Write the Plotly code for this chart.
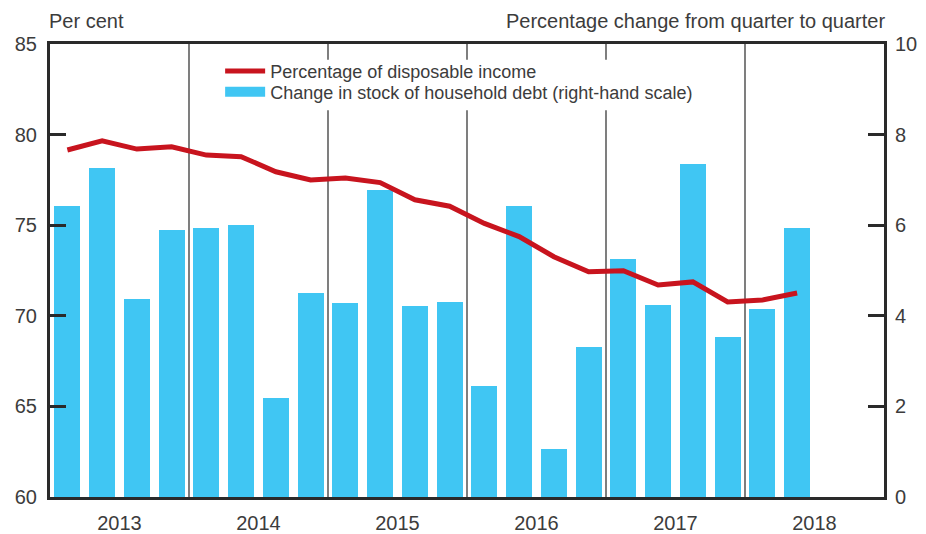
import plotly.graph_objects as go

years = ["2013", "2014", "2015", "2016", "2017", "2018"]
quarters = [f"{y}Q{q}" for y in years for q in range(1, 5)][:22]

debt_change = [6.42, 7.26, 4.37, 5.89,
               5.94, 6.00, 2.19, 4.50,
               4.28, 6.78, 4.22, 4.30,
               2.45, 6.42, 1.06, 3.31,
               5.25, 4.24, 7.35, 3.53,
               4.15, 5.94]

pct_income = [79.15, 79.65, 79.2, 79.33,
              78.87, 78.78, 77.95, 77.5,
              77.6, 77.35, 76.4, 76.05,
              75.1, 74.37, 73.26, 72.43,
              72.49, 71.7, 71.87, 70.76,
              70.87, 71.26]

left_ticks = [60, 65, 70, 75, 80, 85]
right_ticks = [0, 2, 4, 6, 8, 10]

xpos = list(range(len(quarters)))
n_slots = len(years) * 4
year_centers = [i * 4 + 1.5 for i in range(len(years))]
separators = [i * 4 - 0.5 for i in range(1, len(years))]

RED = "#c8141e"
BLUE = "#40c6f3"
TXT = "#3c3c3c"
AX = "#2a2a2a"
FONT = "Liberation Sans, Arial, sans-serif"

LINE_NAME = "Percentage of disposable income"
BAR_NAME = "Change in stock of household debt (right-hand scale)"

fig = go.Figure()
fig.add_trace(go.Bar(
    x=xpos, y=debt_change, marker=dict(color=BLUE, line=dict(width=0)),
    width=0.75, name=BAR_NAME, yaxis="y", showlegend=False,
))
fig.add_trace(go.Scatter(
    x=xpos, y=pct_income, mode="lines",
    line=dict(color=RED, width=5),
    name=LINE_NAME, yaxis="y2", legend="legend",
))
# legend proxy for the bars (wide swatch like the original)
fig.add_trace(go.Scatter(
    x=[None], y=[None], mode="lines", line=dict(color=BLUE, width=13),
    name=BAR_NAME, yaxis="y", legend="legend2", hoverinfo="skip",
))

shapes = []
for s in separators:
    shapes.append(dict(type="line", xref="x", yref="paper", x0=s, x1=s, y0=0, y1=1,
                       line=dict(color="#3a3a3a", width=1.3), layer="below"))
# white backdrop behind the legend (interrupts separator lines)
shapes.append(dict(type="rect", xref="paper", yref="paper",
                   x0=0.198, x1=0.779, y0=0.854, y1=0.965,
                   fillcolor="white", line=dict(width=0), layer="below"))

leg_common = dict(xanchor="left", yanchor="middle", bgcolor="rgba(0,0,0,0)",
                  font=dict(size=18, color=TXT), itemwidth=40, borderwidth=0)

fig.update_layout(
    width=926, height=534,
    margin=dict(l=50, r=42, t=44, b=37, autoexpand=False),
    paper_bgcolor="white", plot_bgcolor="white",
    font=dict(family=FONT, color=TXT, size=20),
    showlegend=True,
    legend=dict(x=0.204, y=0.940, **leg_common),
    legend2=dict(x=0.204, y=0.894, **leg_common),
    bargap=0,
    xaxis=dict(range=[-0.5, n_slots - 0.5], tickmode="array",
               tickvals=year_centers, ticktext=years, ticks="",
               showgrid=False, zeroline=False, ticklabelstandoff=6,
               showline=True, linecolor=AX, linewidth=3, mirror=True,
               tickfont=dict(size=20, color=TXT)),
    yaxis=dict(range=[0, 10], tickvals=right_ticks, side="right",
               ticks="inside", ticklen=16, tickwidth=2.5, tickcolor=AX,
               showgrid=False, zeroline=False, ticklabelstandoff=4,
               showline=True, linecolor=AX, linewidth=3,
               tickfont=dict(size=20, color=TXT)),
    yaxis2=dict(range=[60, 85], tickvals=left_ticks, side="left",
                overlaying="y", ticks="inside", ticklen=16, tickwidth=2.5,
                tickcolor=AX, showgrid=False, zeroline=False,
                ticklabelstandoff=6,
                showline=True, linecolor=AX, linewidth=3,
                tickfont=dict(size=20, color=TXT)),
    shapes=shapes,
    annotations=[
        dict(text="Per cent", xref="paper", yref="paper", x=0, y=1,
             xshift=-3, yshift=10, xanchor="left", yanchor="bottom",
             showarrow=False, font=dict(size=20, color=TXT)),
        dict(text="Percentage change from quarter to quarter", xref="paper",
             yref="paper", x=1, y=1, xshift=3, yshift=10, xanchor="right",
             yanchor="bottom", showarrow=False, font=dict(size=20, color=TXT)),
    ],
)

fig.write_html("out.html", config={"displayModeBar": False},
               post_script="document.body.style.margin='0';document.body.style.padding='0';")
